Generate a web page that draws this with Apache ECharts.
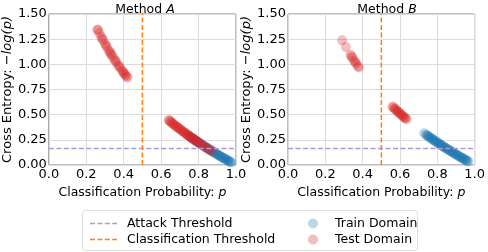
<!DOCTYPE html>
<html><head><meta charset="utf-8">
<script src="https://cdn.jsdelivr.net/npm/echarts@6/dist/echarts.min.js"></script>
<style>html,body{margin:0;padding:0;background:#fff}#c{width:488px;height:252px}</style>
</head><body><div id="c"></div>
<script>
const titles = ['A', 'B'];
const xMin = 0, xMax = 1.0, xStep = 0.2;
const yMin = 0, yMax = 1.5, yStep = 0.25;
const attackThreshold = 0.165;
const classThreshold = 0.5;

const trainA = [[0.74,0.301],[0.75,0.288],[0.76,0.274],[0.765,0.268],[0.77,0.261],[0.775,0.255],[0.78,0.248],[0.785,0.242],[0.79,0.236],[0.795,0.229],[0.80,0.223],[0.805,0.217],[0.81,0.211],[0.815,0.205],[0.82,0.198],[0.825,0.192],[0.83,0.186],[0.835,0.180],[0.84,0.174],[0.845,0.168],[0.85,0.163],[0.855,0.157],[0.86,0.151],[0.865,0.145],[0.87,0.139],[0.875,0.134],[0.88,0.128],[0.885,0.122],[0.89,0.117],[0.895,0.111],[0.90,0.105],[0.905,0.100],[0.91,0.094],[0.915,0.089],[0.92,0.083],[0.925,0.078],[0.93,0.073],[0.935,0.067],[0.94,0.062],[0.945,0.057],[0.95,0.051],[0.955,0.046],[0.96,0.041],[0.965,0.036],[0.97,0.030],[0.975,0.025]];
const testA = [[0.26,1.347],[0.262,1.339],[0.27,1.309],[0.28,1.273],[0.285,1.255],[0.29,1.238],[0.30,1.204],[0.305,1.187],[0.31,1.171],[0.32,1.139],[0.325,1.124],[0.33,1.109],[0.335,1.094],[0.34,1.079],[0.35,1.050],[0.355,1.036],[0.36,1.022],[0.37,0.994],[0.375,0.981],[0.38,0.968],[0.39,0.942],[0.395,0.929],[0.40,0.916],[0.405,0.904],[0.41,0.892],[0.415,0.879],[0.42,0.868],
  [0.64,0.446],[0.645,0.439],[0.65,0.431],[0.655,0.423],[0.66,0.416],[0.665,0.408],[0.67,0.400],[0.675,0.393],[0.68,0.386],[0.685,0.378],[0.69,0.371],[0.695,0.364],[0.70,0.357],[0.705,0.350],[0.71,0.342],[0.715,0.336],[0.72,0.329],[0.725,0.322],[0.73,0.315],[0.735,0.308],[0.74,0.301],[0.745,0.294],[0.75,0.288],[0.755,0.281],[0.76,0.274],[0.765,0.268],[0.77,0.261],[0.775,0.255],[0.78,0.248],[0.785,0.242],[0.79,0.236],[0.795,0.229],[0.80,0.223],[0.81,0.211],[0.82,0.198],[0.83,0.186],[0.84,0.174],[0.85,0.163],[0.86,0.151],[0.87,0.139]];
const trainB = [[0.73,0.315],[0.74,0.301],[0.745,0.294],[0.75,0.288],[0.755,0.281],[0.76,0.274],[0.765,0.268],[0.77,0.261],[0.775,0.255],[0.78,0.248],[0.785,0.242],[0.79,0.236],[0.795,0.229],[0.80,0.223],[0.805,0.217],[0.81,0.211],[0.815,0.205],[0.82,0.198],[0.825,0.192],[0.83,0.186],[0.835,0.180],[0.84,0.174],[0.845,0.168],[0.85,0.163],[0.855,0.157],[0.86,0.151],[0.865,0.145],[0.87,0.139],[0.875,0.134],[0.88,0.128],[0.885,0.122],[0.89,0.117],[0.895,0.111],[0.90,0.105],[0.905,0.100],[0.91,0.094],[0.915,0.089],[0.92,0.083],[0.925,0.078],[0.93,0.073],[0.935,0.067],[0.94,0.062],[0.945,0.057],[0.95,0.051],[0.955,0.046],[0.96,0.041],[0.965,0.036]];
const testB = [[0.29,1.238],[0.31,1.171],[0.335,1.094],[0.34,1.079],[0.345,1.064],[0.355,1.036],[0.36,1.022],[0.365,1.008],[0.375,0.981],[0.38,0.968],
  [0.56,0.580],[0.565,0.571],[0.57,0.562],[0.575,0.553],[0.58,0.545],[0.585,0.536],[0.59,0.528],[0.595,0.519],[0.60,0.511],[0.605,0.503],[0.61,0.494],[0.615,0.486],[0.62,0.478],[0.625,0.470],[0.63,0.462],[0.635,0.454]];

const trainData = [trainA, trainB];
const testData = [testA, testB];

const FONT = 'DejaVu Sans';
const DASH_ICON = 'path://M0 0h5v1.5h-5zM7.4 0h5v1.5h-5zM14.8 0h5v1.5h-5zM22.2 0h4.8v1.5h-4.8z';
const grids = [
  {left: 44, top: 14, width: 192, height: 151},
  {left: 288, top: 14, width: 188, height: 151}
];
const opt = {
  animation: false,
  textStyle: {fontFamily: FONT, color: '#000'},
  title: titles.map((t, i) => ({
    text: 'Method {i|' + t + '}',
    left: grids[i].left + grids[i].width / 2, textAlign: 'center', top: -2,
    textStyle: {fontFamily: FONT, fontSize: 12.5, fontWeight: 'normal', color: '#000',
      rich: {i: {fontFamily: FONT, fontSize: 12.5, fontStyle: 'italic', color: '#000'}}}
  })),
  grid: grids.map(g => Object.assign({show: true, borderColor: '#7f7f7f', borderWidth: 1, backgroundColor: '#fff'}, g)),
  xAxis: grids.map((g, i) => ({
    type: 'value', gridIndex: i, min: xMin, max: xMax, interval: xStep,
    name: 'Classification Probability: {i|p}', nameLocation: 'middle', nameGap: 17,
    nameTextStyle: {fontFamily: FONT, fontSize: 12.5, color: '#000',
      rich: {i: {fontFamily: FONT, fontSize: 12.5, fontStyle: 'italic', color: '#000'}}},
    axisLine: {show: false}, axisTick: {show: false},
    axisLabel: {fontFamily: FONT, fontSize: 13, color: '#000', margin: 3, formatter: v => v.toFixed(1)},
    splitLine: {show: true, lineStyle: {color: '#dcdcdc', width: 1}}
  })),
  yAxis: grids.map((g, i) => ({
    type: 'value', gridIndex: i, min: yMin, max: yMax, interval: yStep,
    name: 'Cross Entropy: {i|\u2212log(p)}', nameLocation: 'middle', nameGap: 32,
    nameTextStyle: {fontFamily: FONT, fontSize: 13, color: '#000',
      rich: {i: {fontFamily: FONT, fontSize: 13, fontStyle: 'italic', color: '#000'}}},
    axisLine: {show: false}, axisTick: {show: false},
    axisLabel: {fontFamily: FONT, fontSize: 13, color: '#000', margin: 2, formatter: v => v.toFixed(2)},
    splitLine: {show: true, lineStyle: {color: '#dcdcdc', width: 1}}
  })),
  legend: [
    {data: [{name: 'Attack Threshold', icon: DASH_ICON}, {name: 'Classification Threshold', icon: DASH_ICON}],
      orient: 'vertical', left: 85, top: 212, symbolKeepAspect: false,
      itemWidth: 27, itemHeight: 1.5, itemGap: 3,
      textStyle: {fontFamily: FONT, fontSize: 12.5, color: '#000', padding: [0, 0, 0, 5]}},
    {data: ['Train Domain', 'Test Domain'], orient: 'vertical', left: 303, top: 212,
      itemWidth: 10, itemHeight: 10, itemGap: 3,
      textStyle: {fontFamily: FONT, fontSize: 12.5, color: '#000', padding: [0, 0, 0, 12]}}
  ],
  graphic: [{type: 'rect', left: 82, top: 210, shape: {width: 335, height: 40, r: 3},
    style: {fill: '#fff', stroke: '#dddddd', lineWidth: 1}, z: -1}],
  series: []
};
for (let i = 0; i < 2; i++) {
  opt.series.push({type: 'scatter', name: 'Train Domain', xAxisIndex: i, yAxisIndex: i, data: trainData[i],
    symbolSize: 10, itemStyle: {color: '#1f77b4', opacity: 0.3}, z: 2});
  opt.series.push({type: 'scatter', name: 'Test Domain', xAxisIndex: i, yAxisIndex: i, data: testData[i],
    symbolSize: 10, itemStyle: {color: '#d62728', opacity: 0.3}, z: 3});
  opt.series.push({type: 'line', name: 'Attack Threshold', xAxisIndex: i, yAxisIndex: i,
    data: [[xMin, attackThreshold], [xMax, attackThreshold]], symbol: 'none',
    lineStyle: {color: '#b296d6', width: 1.5, type: [5, 2.5]}, itemStyle: {color: '#b296d6'}, z: 4, silent: true});
  opt.series.push({type: 'line', name: 'Classification Threshold', xAxisIndex: i, yAxisIndex: i,
    data: [[classThreshold, yMin], [classThreshold, yMax]], symbol: 'none',
    lineStyle: {color: '#ff7f0e', width: 1.5, type: [5, 2.5]}, itemStyle: {color: '#ff7f0e'}, z: 4, silent: true});
}
const chart = echarts.init(document.getElementById('c'), null, {renderer: 'canvas'});
chart.setOption(opt);
</script></body></html>
